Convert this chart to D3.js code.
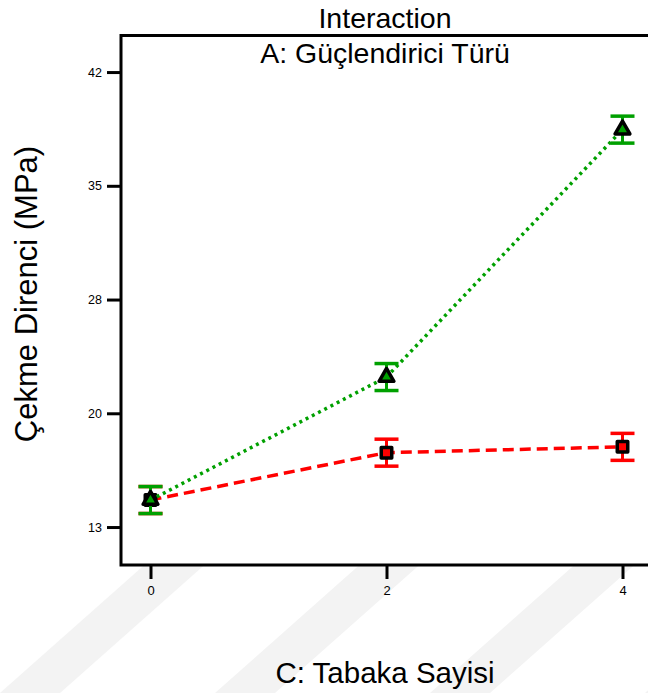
<!DOCTYPE html>
<html>
<head>
<meta charset="utf-8">
<script src="https://cdn.jsdelivr.net/npm/d3@7"></script>
<style>
  body { margin: 0; background: #fff; }
  text { font-family: "Liberation Sans", Arial, sans-serif; }
</style>
</head>
<body>
<script>
// Data
const levels = [0, 2, 4];
const yTickValues = [13, 20.25, 27.5, 34.75, 42];
const yTickLabels = ["13", "20", "28", "35", "42"];
const redMeans = [14.72, 17.74, 18.11];
const greenMeans = [14.72, 22.56, 38.33];
const lsdHalf = [0.86, 0.86, 0.86];

const W = 648, H = 693;
const margin = { top: 35.5, right: -4, bottom: 128, left: 121 },
      width = W - margin.left - margin.right,
      height = H - margin.top - margin.bottom;

const svg = d3.select("body")
  .append("svg")
    .attr("width", W)
    .attr("height", H);

// faint diagonal watermark bands under the axis
const bands = [0, 1, 2, 3, 4];
svg.append("g").selectAll("path")
  .data(bands)
  .enter().append("path")
    .attr("fill", "#f3f3f3")
    .attr("d", i => {
      const x0 = 150 + i * 215, w = 60, dx = 150;
      return `M${x0},560 L${x0 + w},560 L${x0 + w - dx},693 L${x0 - dx},693 Z`;
    });

const g = svg.append("g")
    .attr("transform", `translate(${margin.left},${margin.top})`);

const x = d3.scaleLinear()
  .domain([-0.25, 4.25])
  .range([0, width]);

const y = d3.scaleLinear()
  .domain([10.58, 44.33])
  .range([height, 0]);

// plot background + frame
g.append("rect")
  .attr("width", width)
  .attr("height", height)
  .attr("fill", "#fff")
  .attr("stroke", "#000")
  .attr("stroke-width", 3);

// Axes
const yAxis = g.append("g")
  .call(d3.axisLeft(y)
    .tickValues(yTickValues)
    .tickFormat((d, i) => yTickLabels[i])
    .tickSize(14)
    .tickPadding(5));
yAxis.select(".domain").remove();
yAxis.selectAll("line").attr("stroke", "#000").attr("stroke-width", 3);
yAxis.selectAll("text").attr("font-size", 12.5).attr("fill", "#000")
  .style("font-family", "Liberation Sans, Arial, sans-serif");

const xAxis = g.append("g")
  .attr("transform", `translate(0,${height})`)
  .call(d3.axisBottom(x)
    .tickValues(levels)
    .tickFormat(d3.format("d"))
    .tickSize(14)
    .tickPadding(7));
xAxis.select(".domain").remove();
xAxis.selectAll("line").attr("stroke", "#000").attr("stroke-width", 3);
xAxis.selectAll("text").attr("font-size", 13).attr("fill", "#000")
  .style("font-family", "Liberation Sans, Arial, sans-serif");

// Series
const series = [
  { name: "red", color: "#ff0000", means: redMeans, dash: "11,6", shape: "square" },
  { name: "green", color: "#00a000", means: greenMeans, dash: "3,4", shape: "triangle" }
];

const line = d3.line()
  .x((d, i) => x(levels[i]))
  .y(d => y(d));

series.forEach(s => {
  const sg = g.append("g");

  sg.append("path")
    .datum(s.means)
    .attr("fill", "none")
    .attr("stroke", s.color)
    .attr("stroke-width", 3.5)
    .attr("stroke-dasharray", s.dash)
    .attr("d", line);

  // LSD bars
  const bars = sg.selectAll(".bar")
    .data(s.means)
    .enter().append("g");
  bars.append("line")
    .attr("x1", (d, i) => x(levels[i]))
    .attr("x2", (d, i) => x(levels[i]))
    .attr("y1", (d, i) => y(d + lsdHalf[i]))
    .attr("y2", (d, i) => y(d - lsdHalf[i]))
    .attr("stroke", s.color).attr("stroke-width", 3);
  [1, -1].forEach(sign => {
    bars.append("line")
      .attr("x1", (d, i) => x(levels[i]) - 12)
      .attr("x2", (d, i) => x(levels[i]) + 12)
      .attr("y1", (d, i) => y(d + sign * lsdHalf[i]))
      .attr("y2", (d, i) => y(d + sign * lsdHalf[i]))
      .attr("stroke", s.color).attr("stroke-width", 3.5);
  });

  // markers
  const sym = s.shape === "square" ? d3.symbolSquare : d3.symbolTriangle;
  const pts = sg.selectAll(".pt")
    .data(s.means)
    .enter().append("g")
      .attr("transform", (d, i) => `translate(${x(levels[i])},${y(d)})`);
  pts.append("path")
    .attr("d", d3.symbol().type(sym).size(s.shape === "square" ? 110 : 95))
    .attr("fill", s.color)
    .attr("stroke", "#000")
    .attr("stroke-width", 3.5)
    .attr("stroke-linejoin", "round");
});

// Titles
const big = 28.5;
svg.append("text")
  .attr("x", 385).attr("y", 28)
  .attr("text-anchor", "middle")
  .attr("font-size", big)
  .text("Interaction");

svg.append("text")
  .attr("x", 385).attr("y", 63)
  .attr("text-anchor", "middle")
  .attr("font-size", big)
  .text("A: Güçlendirici Türü");

svg.append("text")
  .attr("x", 385).attr("y", 683)
  .attr("text-anchor", "middle")
  .attr("font-size", 29.5)
  .text("C: Tabaka Sayisi");

svg.append("text")
  .attr("transform", "translate(37,294) rotate(-90)")
  .attr("text-anchor", "middle")
  .attr("font-size", 31)
  .text("Çekme Direnci (MPa)");
</script>
</body>
</html>
